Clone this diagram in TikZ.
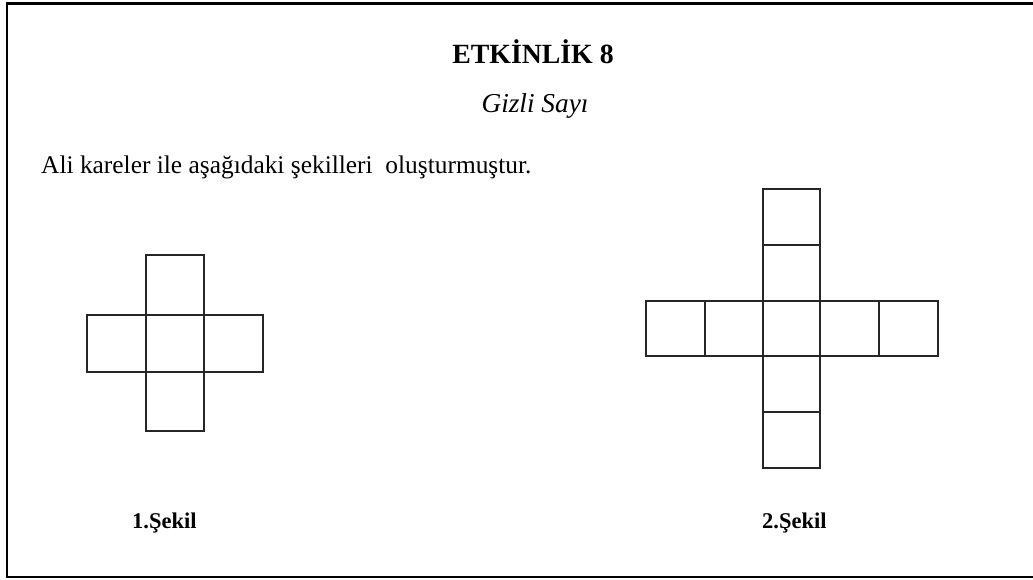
\documentclass[tikz,border=0pt]{standalone}
\usepackage{fontspec}
\setmainfont{Liberation Serif}
\begin{document}
\begin{tikzpicture}[x=1pt,y=-1pt,
  sq/.style={draw=black!85, line width=1.6pt},
  frame/.style={draw=black, line width=2.6pt},
  txt/.style={inner sep=0pt, anchor=base west}]
\useasboundingbox (0,0) rectangle (1033,579);
% frame (top, left, bottom only)
\coordinate (ftr) at (1040,3.5);
\coordinate (ftl) at (7,3.5);
\coordinate (fbl) at (7,577);
\coordinate (fbr) at (1040,577);
\draw[frame] (ftr) -- (ftl) -- (fbl) -- (fbr);
% texts
\node[txt, anchor=base] (title) at (533,63) {\fontsize{27.8}{30}\selectfont\bfseries ETKİNLİK 8};
\node[txt, anchor=base] (sub) at (535,112) {\fontsize{27.3}{30}\selectfont\itshape Gizli Sayı};
\node[txt] (intro) at (41,173) {\fontsize{25.4}{30}\selectfont Ali kareler ile aşağıdaki şekilleri\ \ oluşturmuştur.};
\node[txt] (l1) at (132,528) {\fontsize{22.5}{24}\selectfont\bfseries 1.Şekil};
\node[txt] (l2) at (762,528) {\fontsize{22.5}{24}\selectfont\bfseries 2.Şekil};
% figure 1
\draw[sq] (146,255) rectangle (204,315);
\draw[sq] (87,315) rectangle (146,372);
\draw[sq] (146,315) rectangle (204,372);
\draw[sq] (204,315) rectangle (263,372);
\draw[sq] (146,372) rectangle (204,431);
% figure 2
\draw[sq] (763,189) rectangle (820,245);
\draw[sq] (763,245) rectangle (820,301);
\draw[sq] (646,301) rectangle (705,356);
\draw[sq] (705,301) rectangle (763,356);
\draw[sq] (763,301) rectangle (820,356);
\draw[sq] (820,301) rectangle (879,356);
\draw[sq] (879,301) rectangle (938,356);
\draw[sq] (763,356) rectangle (820,412);
\draw[sq] (763,412) rectangle (820,468);
\end{tikzpicture}
\end{document}
